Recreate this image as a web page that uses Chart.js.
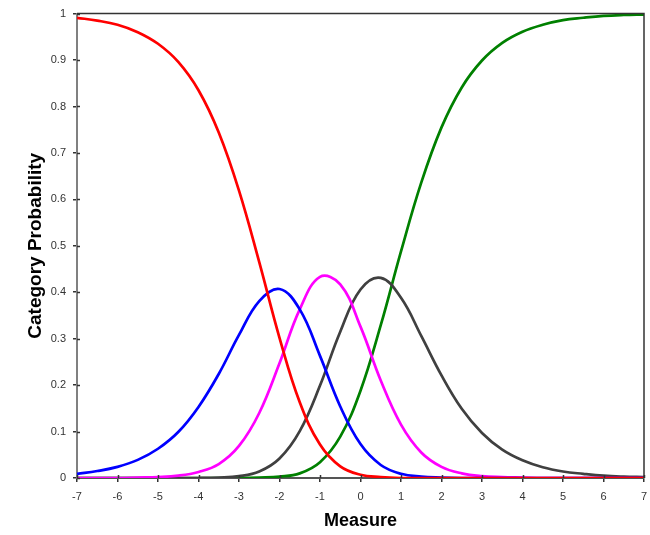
<!DOCTYPE html>
<html>
<head>
<meta charset="utf-8">
<script src="https://cdn.jsdelivr.net/npm/chart.js@4"></script>
<style>
  html, body { margin: 0; padding: 0; background: #fff; }
  canvas { display: block; }
</style>
</head>
<body>
<canvas id="myChart" width="650" height="535"></canvas>
<script>
// measure (logits), sampled every half unit
const measure = [-7, -6.5, -6, -5.5, -5, -4.5, -4, -3.5, -3, -2.5, -2, -1.5, -1, -0.5, 0,
    0.5, 1, 1.5, 2, 2.5, 3, 3.5, 4, 4.5, 5, 5.5, 6, 6.5, 7];

// category probabilities
const cat_red = [0.991, 0.985, 0.976, 0.960, 0.935, 0.896, 0.835, 0.744, 0.619, 0.465, 0.302, 0.163, 0.072, 0.025, 0.007,
    0.002, 0, 0, 0, 0, 0, 0, 0, 0, 0, 0, 0, 0, 0];
const cat_blue = [0.009, 0.015, 0.024, 0.039, 0.063, 0.099, 0.153, 0.224, 0.308, 0.381, 0.407, 0.363, 0.263, 0.154, 0.073,
    0.028, 0.009, 0.003, 0.001, 0, 0, 0, 0, 0, 0, 0, 0, 0, 0];
const cat_magenta = [0, 0, 0, 0.001, 0.002, 0.005, 0.013, 0.030, 0.069, 0.140, 0.247, 0.363, 0.433, 0.417, 0.326,
    0.210, 0.115, 0.055, 0.024, 0.010, 0.004, 0.002, 0.001, 0, 0, 0, 0, 0, 0];
const cat_gray = [0, 0, 0, 0, 0, 0, 0, 0.001, 0.004, 0.014, 0.042, 0.101, 0.199, 0.315, 0.406,
    0.431, 0.388, 0.306, 0.221, 0.149, 0.097, 0.061, 0.038, 0.023, 0.014, 0.009, 0.005, 0.003, 0.002];
const cat_green = [0, 0, 0, 0, 0, 0, 0, 0, 0, 0.001, 0.003, 0.010, 0.034, 0.089, 0.188,
    0.329, 0.488, 0.636, 0.755, 0.841, 0.899, 0.937, 0.961, 0.976, 0.986, 0.991, 0.995, 0.997, 0.998];

const x_ticks = [-7, -6, -5, -4, -3, -2, -1, 0, 1, 2, 3, 4, 5, 6, 7];
const y_ticks = [0, 0.1, 0.2, 0.3, 0.4, 0.5, 0.6, 0.7, 0.8, 0.9, 1];

const font_family = '"Liberation Sans", Arial, sans-serif';

const make_series = (values, color) => ({
    data: measure.map((m, i) => ({ x: m, y: values[i] })),
    borderColor: color,
    borderWidth: 2.7,
    pointRadius: 0,
    tension: 0.4,
    fill: false
});

// top/right frame and the inner half of the tick marks
const frame = {
    id: 'frame',
    afterDraw(chart) {
        const { ctx, chartArea: a, scales } = chart;
        ctx.save();
        ctx.strokeStyle = '#333';
        ctx.lineWidth = 1.5;
        ctx.beginPath();
        ctx.moveTo(a.left, a.top);
        ctx.lineTo(a.right, a.top);
        ctx.lineTo(a.right, a.bottom);
        ctx.stroke();

        ctx.beginPath();
        x_ticks.forEach(v => {
            const px = Math.round(scales.x.getPixelForValue(v)) + 0.5;
            ctx.moveTo(px, a.bottom);
            ctx.lineTo(px, a.bottom - 3);
        });
        y_ticks.forEach(v => {
            const py = Math.round(scales.y.getPixelForValue(v)) + 0.5;
            ctx.moveTo(a.left, py);
            ctx.lineTo(a.left + 3, py);
        });
        ctx.stroke();
        ctx.restore();
    }
};

new Chart(document.getElementById('myChart').getContext('2d'), {
    type: 'line',
    data: {
        datasets: [
            make_series(cat_red, '#ff0000'),
            make_series(cat_blue, '#0000ff'),
            make_series(cat_magenta, '#ff00ff'),
            make_series(cat_gray, '#404040'),
            make_series(cat_green, '#008000')
        ]
    },
    options: {
        responsive: false,
        animation: false,
        devicePixelRatio: 1,
        layout: {
            padding: { top: 13, right: 6, left: 0, bottom: 0 }
        },
        plugins: {
            legend: { display: false },
            tooltip: { enabled: false }
        },
        scales: {
            x: {
                type: 'linear',
                min: -7,
                max: 7,
                afterFit: scale => {
                    scale.height = 57;
                    scale.paddingLeft = 0;
                    scale.paddingRight = 0;
                },
                afterBuildTicks: scale => { scale.ticks = x_ticks.map(v => ({ value: v })); },
                border: { color: '#555', width: 2 },
                grid: { drawOnChartArea: false, drawTicks: true, tickLength: 4, color: '#333', lineWidth: 1.5 },
                ticks: {
                    padding: 8,
                    maxRotation: 0,
                    color: '#333',
                    font: { family: font_family, size: 11 }
                },
                title: {
                    display: true,
                    text: 'Measure',
                    color: '#000',
                    padding: { top: 0, bottom: 3 },
                    font: { family: font_family, size: 18, weight: 'bold' }
                }
            },
            y: {
                type: 'linear',
                min: 0,
                max: 1,
                afterFit: scale => { scale.width = 77; },
                afterBuildTicks: scale => { scale.ticks = y_ticks.map(v => ({ value: v })); },
                border: { color: '#808080', width: 2 },
                grid: { drawOnChartArea: false, drawTicks: true, tickLength: 4, color: '#333', lineWidth: 1.5 },
                ticks: {
                    padding: 7,
                    color: '#333',
                    font: { family: font_family, size: 11 },
                    callback: v => String(Math.round(v * 10) / 10)
                },
                title: {
                    display: true,
                    text: 'Category Probability',
                    color: '#000',
                    padding: { top: 24, bottom: 0 },
                    font: { family: font_family, size: 19, weight: 'bold' }
                }
            }
        }
    },
    plugins: [frame]
});
</script>
</body>
</html>
